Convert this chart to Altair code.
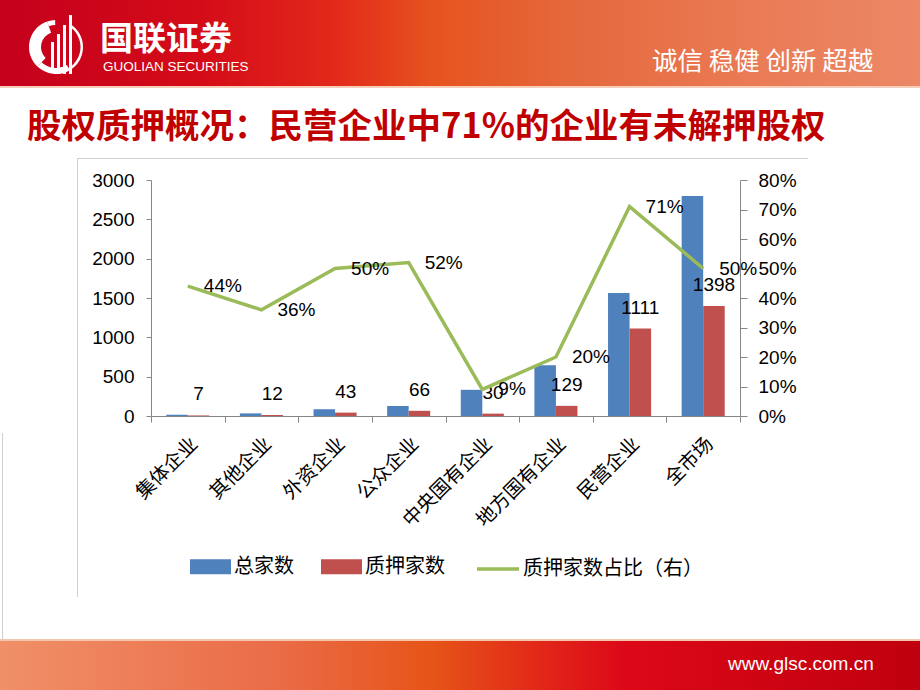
import altair as alt
import pandas as pd

# ---------------- data ----------------
categories = ["集体企业", "其他企业", "外资企业", "公众企业", "中央国有企业", "地方国有企业", "民营企业", "全市场"]
total_counts = [16, 33, 86, 127, 333, 645, 1565, 2796]
pledged_counts = [7, 12, 43, 66, 30, 129, 1111, 1398]
pledged_ratio = [0.44, 0.36, 0.50, 0.52, 0.09, 0.20, 0.71, 0.50]
series_names = ["总家数", "质押家数"]
ratio_name = "质押家数占比（右）"
left_ticks = [0, 500, 1000, 1500, 2000, 2500, 3000]
right_ticks = [0, 0.1, 0.2, 0.3, 0.4, 0.5, 0.6, 0.7, 0.8]

title_text = "股权质押概况：民营企业中71%的企业有未解押股权"
logo_cn = "国联证券"
logo_en = "GUOLIAN SECURITIES"
slogan = "诚信 稳健 创新 超越"
website = "www.glsc.com.cn"

bars_df = pd.DataFrame({
    "cat": categories * 2,
    "series": [series_names[0]] * len(categories) + [series_names[1]] * len(categories),
    "value": total_counts + pledged_counts,
})
line_df = pd.DataFrame({"cat": categories, "ratio": pledged_ratio, "lname": [ratio_name] * len(categories)})

# ---------------- styling ----------------
W, H = 589, 236
PL, PT = 151, 180
CJK = "Noto Sans CJK SC"
NUM = "Liberation Sans, Noto Sans CJK SC"
AX = "#868686"
BLUE, RED, GREEN = "#4f81bd", "#c0504d", "#9bbb59"

one = pd.DataFrame({"k": [0]})


def deco_rect(x, x2, y, y2, fill):
    return alt.Chart(one).mark_rect(fill=fill, strokeWidth=0).encode(
        x=alt.value(x - PL), x2=alt.value(x2 - PL), y=alt.value(y - PT), y2=alt.value(y2 - PT))


def deco_text(txt, x, y, size, color, font, weight="normal", align="left"):
    return alt.Chart(pd.DataFrame({"t": [txt]})).mark_text(
        align=align, baseline="middle", fontSize=size, font=font, fontWeight=weight, color=color
    ).encode(x=alt.value(x - PL), y=alt.value(y - PT), text="t:N")


def deco_arc(cx, cy, r1, r2, t1, t2):
    return alt.Chart(one).mark_arc(innerRadius=r1, outerRadius=r2, theta=t1, theta2=t2, fill="white").encode(
        x=alt.value(cx - PL), y=alt.value(cy - PT))


header_grad = alt.Gradient(gradient="linear", x1=0, x2=1, y1=0, y2=0, stops=[
    alt.GradientStop(offset=0, color="#c4001c"),
    alt.GradientStop(offset=0.22, color="#d40c18"),
    alt.GradientStop(offset=0.36, color="#e2281a"),
    alt.GradientStop(offset=0.47, color="#e6531f"),
    alt.GradientStop(offset=0.62, color="#e5683c"),
    alt.GradientStop(offset=0.82, color="#ea7b56"),
    alt.GradientStop(offset=1, color="#ec8866"),
])
footer_grad = alt.Gradient(gradient="linear", x1=0, x2=1, y1=0, y2=0, stops=[
    alt.GradientStop(offset=0, color="#f09068"),
    alt.GradientStop(offset=0.3, color="#ea6c48"),
    alt.GradientStop(offset=0.47, color="#e65418"),
    alt.GradientStop(offset=0.58, color="#e22a18"),
    alt.GradientStop(offset=0.68, color="#dc0818"),
    alt.GradientStop(offset=1, color="#c0000e"),
])

decos = [
    deco_rect(0, 920, 0, 86, header_grad),
    deco_rect(0, 920, 86, 88, "#f6cdb8"),
    deco_rect(0, 920, 639, 641, "#f4c6ae"),
    deco_rect(0, 920, 641, 690, footer_grad),
    deco_rect(77, 808, 158, 159, "#cfcfcf"),
    deco_rect(77, 78, 158, 597, "#cfcfcf"),
    deco_rect(2, 3, 433, 640, "#cfcfcf"),
    # emblem
    deco_arc(56, 47, 15, 27, 3.9, 5.95),
    deco_arc(56, 47, 21, 27, 2.6, 3.9),
    deco_arc(56, 47, 22, 27, 5.95, 6.25),
    deco_arc(56, 47, 24.5, 27, 0.6, 2.6),
    deco_rect(51, 54, 42, 71, "white"),
    deco_rect(57, 60, 34, 73, "white"),
    deco_rect(63, 66, 25, 74, "white"),
    deco_rect(69, 72, 15, 74, "white"),
]
texts = [
    deco_text(logo_cn, 100, 40, 33, "white", CJK, "bold"),
    deco_text(logo_en, 103, 67, 13.5, "white", "Liberation Sans"),
    deco_text(slogan, 652, 62, 25.5, "white", CJK),
    deco_text(title_text, 27, 128, 34.5, "#c00000", CJK, "bold"),
    deco_text(website, 728, 664, 19, "white", "Liberation Sans"),
]

# ---------------- chart ----------------
x_enc = alt.X(
    "cat:N", sort=categories,
    scale=alt.Scale(paddingInner=0, paddingOuter=0),
    axis=alt.Axis(title=None, labelAngle=-45, labelFontSize=19.5, labelFont=CJK, labelColor="#000",
                  tickBand="extent", domainColor=AX, tickColor=AX, tickSize=6, labelPadding=12,
                  labelOverlap=False),
)
xoff = alt.XOffset("series:N", sort=series_names,
                   scale=alt.Scale(domain=series_names, paddingInner=0, paddingOuter=0.71))
y_left = alt.Y("value:Q", scale=alt.Scale(domain=[0, 3000], nice=False),
               axis=alt.Axis(title=None, orient="left", values=left_ticks, format="d", labelOverlap=False,
                             labelFontSize=19, labelFont=NUM, labelColor="#000", domainColor=AX,
                             tickColor=AX, tickSize=5, labelPadding=12))
y_right = alt.Y("ratio:Q", scale=alt.Scale(domain=[0, 0.8], nice=False),
                axis=alt.Axis(title=None, orient="right", values=right_ticks, format=".0%",
                              labelOverlap=False, labelFontSize=19, labelFont=NUM, labelColor="#000",
                              domainColor=AX, tickColor=AX, tickSize=7, labelPadding=11))

bars = alt.Chart(bars_df).mark_bar().encode(
    x=x_enc,
    xOffset=xoff,
    y=y_left,
    color=alt.Color("series:N", sort=series_names,
                    scale=alt.Scale(domain=series_names, range=[BLUE, RED]),
                    legend=alt.Legend(orient="none", legendX=39, legendY=366, direction="horizontal",
                                      title=None, symbolType="M-1,-0.36H1V0.36H-1Z", symbolSize=1681,
                                      symbolStrokeWidth=0, labelFontSize=20, labelFont=CJK,
                                      labelColor="#000", labelOffset=3, columnPadding=27, padding=0,
                                      labelLimit=400)),
)
bar_text = alt.Chart(bars_df).transform_filter(
    alt.datum.series == series_names[1]
).mark_text(baseline="middle", dy=-21, fontSize=19, font=NUM, color="#000").encode(
    x=x_enc,
    xOffset=xoff,
    y=y_left,
    text=alt.Text("value:Q"),
)
bar_layer = alt.layer(bars, bar_text)

line = alt.Chart(line_df).mark_line(strokeWidth=3.5).encode(
    x=x_enc,
    y=y_right,
    stroke=alt.Stroke("lname:N", scale=alt.Scale(domain=[ratio_name], range=[GREEN]),
                      legend=alt.Legend(orient="none", legendX=324, legendY=366, title=None,
                                        symbolType="stroke", symbolSize=1764, symbolStrokeWidth=3.5,
                                        labelFontSize=20, labelFont=CJK, labelColor="#000",
                                        labelOffset=2, padding=0, labelLimit=400)),
)
pct_text = alt.Chart(line_df).mark_text(align="left", baseline="middle", dx=16, fontSize=19, font=NUM,
                                        color="#000").encode(
    x=x_enc,
    y=y_right,
    text=alt.Text("ratio:Q", format=".0%"),
)
line_layer = alt.layer(line, pct_text)

chart = alt.layer(*decos, bar_layer, line_layer, *texts).resolve_scale(
    y="independent"
).properties(
    width=W, height=H,
    autosize=alt.AutoSizeParams(type="none"),
    padding={"left": PL, "top": PT, "right": 920 - PL - W, "bottom": 690 - PT - H},
).configure(background="white").configure_view(stroke=None).configure_axis(grid=False)

chart.save("out.html", embed_options={"renderer": "svg", "actions": False})
